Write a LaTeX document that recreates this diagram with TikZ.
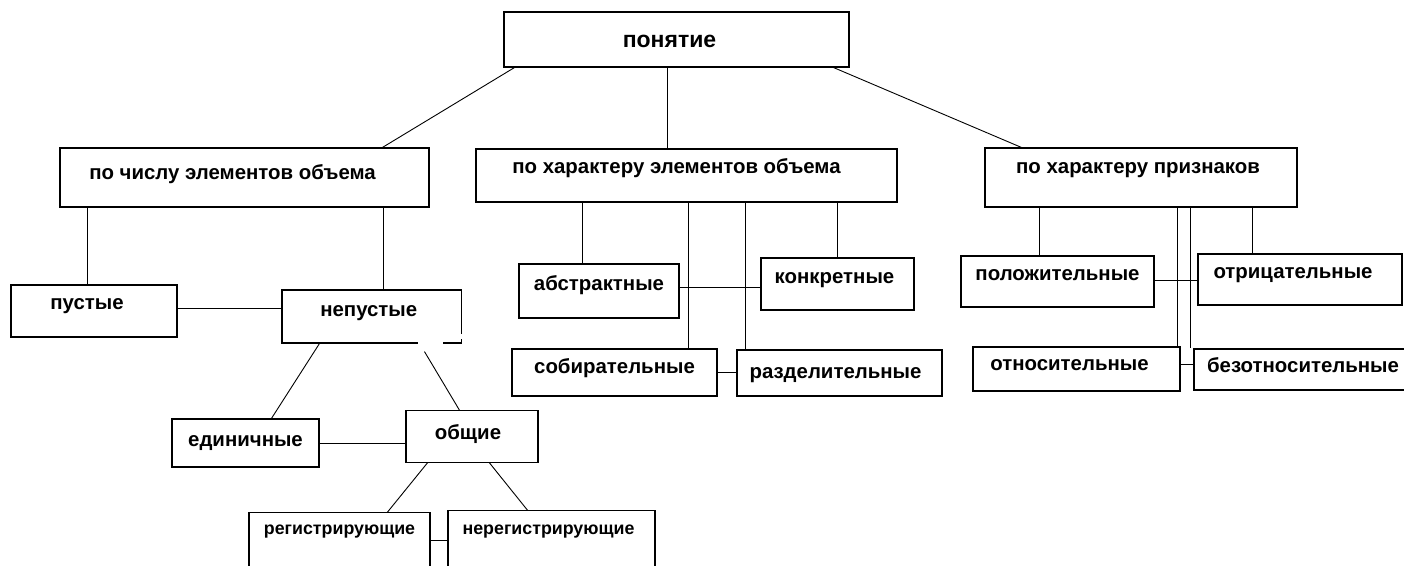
\documentclass[tikz,border=0pt]{standalone}
\usepackage{fontspec}
\setmainfont{Liberation Sans}
\usepackage{tikz}

\tikzset{
  box/.style={draw, line width=1.1pt, inner sep=0pt, text height=10.6pt,
    font=\fontsize{20.4}{24}\selectfont\bfseries},
  nudge/.style={execute at begin node={\hspace*{#1}}},
  link/.style={line width=0.9pt}
}

\begin{document}
\begin{tikzpicture}[x=1pt, y=-1pt]

  \path[use as bounding box, fill=white] (0,0) rectangle (1404,565);

  % Define nodes
  \node[box, nudge=-14pt, minimum width=345pt, minimum height=55pt, text height=15pt, text depth=0pt,
    font=\fontsize{23}{27}\selectfont\bfseries] (ponyatie) at (676.5,39.5) {понятие};

  \node[box, nudge=-24pt, minimum width=369pt, minimum height=59pt, text depth=7.4pt]  (po_chislu)    at (244.5,177.5) {по числу элементов объема};
  \node[box, nudge=-20pt, minimum width=421pt, minimum height=53pt, text depth=14.4pt] (po_harakteru) at (686.5,175.5) {по характеру элементов объема};
  \node[box, nudge=-6pt,  minimum width=312pt, minimum height=59pt, text depth=18.4pt] (po_priznakam) at (1141,177.5) {по характеру признаков};

  \node[box, nudge=-14pt, minimum width=166pt, minimum height=52pt, text depth=13pt]    (pustye)     at (94,311)      {пустые};
  \node[box, nudge=-6pt, minimum width=179.5pt, minimum height=53pt, text depth=10.6pt] (nepustye)  at (371.75,316.5) {непустые};
  \node[box, minimum width=147pt, minimum height=48pt, text depth=4.4pt]                (edinichnye) at (245.5,443)    {единичные};
  \node[box, nudge=-8pt, minimum width=132pt, minimum height=51.6pt, text depth=5.6pt]  (obschie)    at (472,436.5)    {общие};
  \node[box, minimum width=181pt, minimum height=77.3pt, text depth=44.2pt,
    font=\fontsize{17.8}{21}\selectfont\bfseries] (registr)   at (339.5,551.35) {регистрирующие};
  \node[box, nudge=-6pt, minimum width=207pt, minimum height=79.3pt, text depth=42.2pt,
    font=\fontsize{17.8}{21}\selectfont\bfseries] (neregistr) at (551.5,550.35) {нерегистрирующие};

  \node[box, minimum width=160pt, minimum height=54pt, text depth=12pt]                 (abstr)  at (599,291)     {абстрактные};
  \node[box, nudge=-6pt, minimum width=153pt, minimum height=52pt, text depth=11.4pt]   (konkr)  at (837.5,284)   {конкретные};
  \node[box, minimum width=205pt, minimum height=47pt, text depth=8.4pt]                (sobir)  at (614.5,372.5) {собирательные};
  \node[box, nudge=-8pt, minimum width=205pt, minimum height=46pt, text depth=0pt]      (razdel) at (839.5,373)   {разделительные};

  \node[box, minimum width=193pt, minimum height=51pt, text depth=13pt]                 (polozh) at (1057.5,281.5) {положительные};
  \node[box, nudge=-14pt, minimum width=204pt, minimum height=51pt, text depth=12.4pt]  (otric)  at (1300,279.5)   {отрицательные};
  \node[box, nudge=-14pt, minimum width=207pt, minimum height=44pt, text depth=8pt]     (otnos)  at (1076.5,369)   {относительные};
  \node[box, minimum width=218pt, minimum height=41pt, text depth=5.6pt]                (bezotn) at (1303,369.5)   {безотносительные};

  % broken corner of непустые
  \draw[white, line width=2.5pt] ([xshift=-44pt]nepustye.south east) -- ([xshift=-19pt]nepustye.south east);
  \draw[white, line width=2.5pt] ([yshift=5pt]nepustye.south east) -- ([yshift=10pt]nepustye.south east);

  % Connect the nodes
  \draw[link] ([xshift=11pt]ponyatie.south west) -- ([xshift=323pt]po_chislu.north west);
  \draw[link] ([xshift=164pt]ponyatie.south west) -- ([xshift=164pt]ponyatie.south west |- po_harakteru.north);
  \draw[link] ([xshift=-16pt]ponyatie.south east) -- ([xshift=37pt]po_priznakam.north west);

  \draw[link] ([xshift=28pt]po_chislu.south west) -- ([xshift=28pt]po_chislu.south west |- pustye.north);
  \draw[link] ([xshift=324pt]po_chislu.south west) -- ([xshift=324pt]po_chislu.south west |- nepustye.north);
  \draw[link] ([yshift=3pt]pustye.east) -- ([yshift=3pt]pustye.east -| nepustye.west);
  \draw[link] ([xshift=38pt]nepustye.south west) -- ([xshift=100pt]edinichnye.north west);
  \draw[link] ([xshift=143pt,yshift=-8pt]nepustye.south west) -- ([xshift=54pt]obschie.north west);
  \draw[link] (edinichnye.east) -- (edinichnye.east -| obschie.west);
  \draw[link] ([xshift=22pt]obschie.south west) -- ([xshift=139pt]registr.north west);
  \draw[link] ([xshift=84pt]obschie.south west) -- ([xshift=80pt]neregistr.north west);
  \draw[link] ([yshift=11pt]registr.east) -- ([yshift=11pt]registr.east -| neregistr.west);

  \draw[link] ([xshift=107pt]po_harakteru.south west) -- ([xshift=107pt]po_harakteru.south west |- abstr.north);
  \draw[link] ([xshift=213pt]po_harakteru.south west) -- ([xshift=213pt]po_harakteru.south west |- sobir.north);
  \draw[link] ([xshift=269.5pt]po_harakteru.south west) -- ([xshift=269.5pt]po_harakteru.south west |- razdel.north);
  \draw[link] ([xshift=362pt]po_harakteru.south west) -- ([xshift=362pt]po_harakteru.south west |- konkr.north);
  \draw[link] ([yshift=4pt]abstr.east) -- ([yshift=4pt]abstr.east -| konkr.west);
  \draw[link] (sobir.east) -- (sobir.east -| razdel.west);

  \draw[link] ([xshift=55pt]po_priznakam.south west) -- ([xshift=55pt]po_priznakam.south west |- polozh.north);
  \draw[link] ([xshift=193pt]po_priznakam.south west) -- ([xshift=193pt]po_priznakam.south west |- otnos.north);
  \draw[link] ([xshift=206pt]po_priznakam.south west) -- ([xshift=206pt]po_priznakam.south west |- bezotn.north);
  \draw[link] ([xshift=268pt]po_priznakam.south west) -- ([xshift=268pt]po_priznakam.south west |- otric.north);
  \draw[link] ([yshift=1.5pt]polozh.east) -- ([yshift=1.5pt]polozh.east -| otric.west);
  \draw[link] ([yshift=5pt]otnos.east) -- ([yshift=5pt]otnos.east -| bezotn.west);

\end{tikzpicture}
\end{document}
